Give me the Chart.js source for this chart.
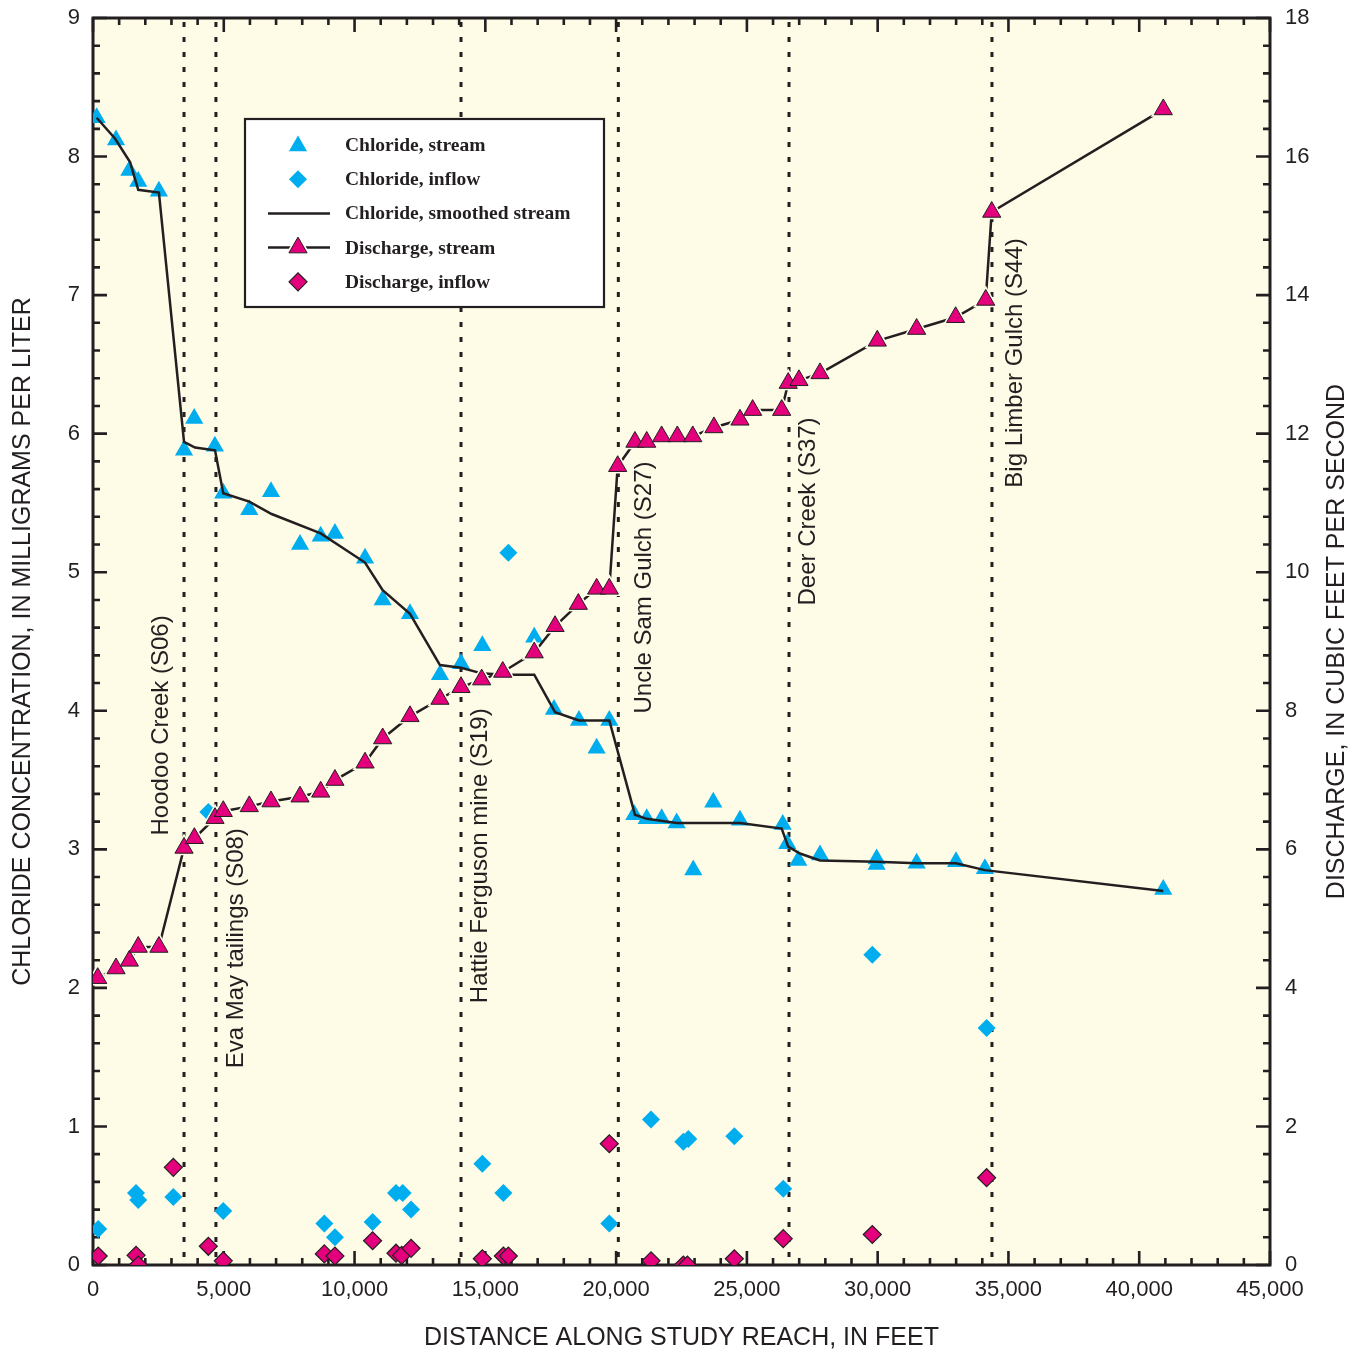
<!DOCTYPE html>
<html>
<head>
<meta charset="utf-8">
<title>Chloride and discharge along the study reach</title>
<script src="https://cdn.jsdelivr.net/npm/chart.js@4.4.1/dist/chart.umd.min.js"></script>
<style>
  html, body { margin: 0; padding: 0; background: #ffffff; }
  canvas { display: block; }
</style>
</head>
<body>
<canvas id="chart" width="1362" height="1351"></canvas>
<script>
// ---- Measured values (distance along study reach in feet) ----
const chlorideStreamDist = [140, 880, 1390, 1730, 2520, 3480, 3870, 4660, 4980, 5975, 6805, 7915, 8705, 9250,
  10400, 11075, 12120, 13265, 14070, 14885, 15690, 16870, 17625, 18580, 19255, 19740, 20695, 21170, 21740,
  22315, 22950, 23715, 24735, 26370, 26545, 26965, 27795, 29960, 29960, 31490, 32995, 34100, 40920];
const chlorideStreamMgL = [8.28, 8.12, 7.90, 7.82, 7.75, 5.88, 6.11, 5.91, 5.57, 5.45, 5.58, 5.20, 5.26, 5.28,
  5.10, 4.80, 4.70, 4.26, 4.34, 4.47, 4.27, 4.53, 4.01, 3.93, 3.73, 3.93, 3.25, 3.22, 3.22,
  3.19, 2.85, 3.34, 3.21, 3.18, 3.04, 2.92, 2.96, 2.93, 2.89, 2.90, 2.91, 2.86, 2.71];

const chlorideInflowDist = [200, 1645, 1730, 3070, 4410, 4980, 8845, 9250, 10690, 11585, 11840, 12160,
  14885, 15690, 15880, 19740, 21335, 22570, 22760, 24520, 26390, 29795, 34165];
const chlorideInflowMgL = [0.26, 0.52, 0.47, 0.49, 3.27, 0.39, 0.30, 0.20, 0.31, 0.52, 0.52, 0.40,
  0.73, 0.52, 5.14, 0.30, 1.05, 0.89, 0.91, 0.93, 0.55, 2.24, 1.71];

const smoothedDist = [140, 840, 1415, 1730, 2520, 3480, 3900, 4665, 4980, 5975, 6830, 8705, 10400, 11075,
  12120, 13265, 14070, 14860, 15690, 16870, 17665, 18580, 19740, 20720, 21170, 22315, 24735, 26330,
  26580, 27030, 27795, 29960, 31490, 32995, 34100, 40920];
const smoothedMgL = [8.28, 8.13, 7.96, 7.76, 7.74, 5.94, 5.90, 5.88, 5.57, 5.51, 5.42, 5.28, 5.07, 4.87,
  4.70, 4.33, 4.31, 4.27, 4.26, 4.26, 3.99, 3.93, 3.93, 3.25, 3.22, 3.19, 3.19, 3.15,
  3.02, 2.97, 2.92, 2.91, 2.90, 2.90, 2.85, 2.70];

const dischargeStreamDist = [180, 880, 1390, 1730, 2520, 3480, 3875, 4665, 4980, 5975, 6805, 7915, 8705, 9250,
  10400, 11075, 12120, 13265, 14070, 14860, 15665, 16870, 17665, 18555, 19255, 19740, 20060, 20720, 21170,
  21740, 22340, 22930, 23740, 24735, 25220, 26330, 26580, 26990, 27795, 29985, 31490, 32980, 34130, 34360, 40920];
const dischargeStreamCfs = [4.14, 4.28, 4.39, 4.59, 4.59, 6.02, 6.16, 6.45, 6.55, 6.62, 6.69, 6.76, 6.83, 7.00,
  7.25, 7.60, 7.92, 8.17, 8.34, 8.45, 8.56, 8.84, 9.22, 9.54, 9.76, 9.76, 11.53, 11.88, 11.88,
  11.96, 11.96, 11.96, 12.09, 12.20, 12.34, 12.34, 12.73, 12.77, 12.87, 13.34, 13.51, 13.68, 13.93, 15.20, 16.68];

const dischargeInflowDist = [200, 1645, 1730, 3070, 4410, 4980, 8845, 9250, 10690, 11585, 11800, 12160,
  14885, 15690, 15880, 19740, 21335, 22570, 22725, 24520, 26390, 29795, 34165];
const dischargeInflowCfs = [0.13, 0.14, 0.0, 1.41, 0.27, 0.06, 0.16, 0.13, 0.35, 0.17, 0.14, 0.24,
  0.09, 0.13, 0.13, 1.75, 0.06, 0.0, 0.0, 0.09, 0.38, 0.44, 1.26];

// Tributaries and other sources entering the reach
const tribNames = ['Hoodoo Creek (S06)', 'Eva May tailings (S08)', 'Hattie Ferguson mine (S19)',
  'Uncle Sam Gulch (S27)', 'Deer Creek (S37)', 'Big Limber Gulch (S44)'];
const tribDist = [3480, 4700, 14070, 20085, 26610, 34370];

// Axis tick labels
const xTickLabels = ['0', '5,000', '10,000', '15,000', '20,000', '25,000', '30,000', '35,000', '40,000', '45,000'];
const chlorideTickLabels = ['0', '1', '2', '3', '4', '5', '6', '7', '8', '9'];
const dischargeTickLabels = ['0', '2', '4', '6', '8', '10', '12', '14', '16', '18'];

const legendLabels = ['Chloride, stream', 'Chloride, inflow', 'Chloride, smoothed stream',
  'Discharge, stream', 'Discharge, inflow'];

// ---- Styling ----
const INK = '#231F20';
const CYAN = '#00AEEF';
const PINK = '#E4007C';
const PAPER = '#FEFBE7';
const SANS = '"Liberation Sans", Arial, Helvetica, sans-serif';
const SERIF = '"Liberation Serif", "Times New Roman", serif';
const TRI_R = 10.5;   // triangle marker radius
const DIA_R = 9;      // diamond marker radius

// Where each tributary name sits: horizontal shift from its line (px) and
// the chloride-axis level at which the rotated text starts.
const tribLabelShift = [-16, 27, 26, 33, 26, 30];
const tribLabelStart = [3.10, 1.42, 1.89, 3.98, 4.76, 5.61];

const pts = (xs, ys) => xs.map((x, i) => ({ x, y: ys[i] }));

Chart.defaults.font.family = SANS;
Chart.defaults.color = INK;

// fixed box sizes for the axes, without extra label padding around the plot
function fixBox(size, key) {
  return s => {
    s[key] = size;
    s.paddingTop = 0; s.paddingBottom = 0; s.paddingLeft = 0; s.paddingRight = 0;
  };
}

function marker(ctx, style, r, x, y, fill, stroke, bw) {
  ctx.save();
  ctx.fillStyle = fill;
  ctx.strokeStyle = stroke || fill;
  ctx.lineWidth = bw || 0;
  Chart.helpers.drawPoint(ctx, { pointStyle: style, radius: r, rotation: 0, borderWidth: bw || 0 }, x, y);
  ctx.restore();
}

const decorations = {
  id: 'decorations',
  beforeDatasetsDraw(chart) {
    const { ctx, chartArea: a, scales } = chart;
    const xs = scales.x, yl = scales.yCl, yr = scales.yQ;
    ctx.save();
    // plot background
    ctx.fillStyle = PAPER;
    ctx.fillRect(a.left, a.top, a.right - a.left, a.bottom - a.top);

    // dotted lines at the tributaries
    ctx.strokeStyle = INK;
    ctx.lineWidth = 3;
    ctx.setLineDash([5, 10]);
    tribDist.forEach(d => {
      const px = xs.getPixelForValue(d);
      ctx.beginPath();
      ctx.moveTo(px, a.top + 4);
      ctx.lineTo(px, a.bottom);
      ctx.stroke();
    });
    ctx.setLineDash([]);

    // tributary names, rotated
    ctx.fillStyle = INK;
    ctx.font = '24px ' + SANS;
    ctx.textAlign = 'left';
    ctx.textBaseline = 'alphabetic';
    tribNames.forEach((name, i) => {
      const px = xs.getPixelForValue(tribDist[i]) + tribLabelShift[i];
      const py = yl.getPixelForValue(tribLabelStart[i]);
      ctx.save();
      ctx.translate(px, py);
      ctx.rotate(-Math.PI / 2);
      ctx.fillText(name, 0, 0);
      ctx.restore();
    });

    // plot frame
    ctx.strokeStyle = INK;
    ctx.lineWidth = 3;
    ctx.strokeRect(a.left, a.top, a.right - a.left, a.bottom - a.top);

    // inward tick marks
    ctx.lineWidth = 2.6;
    ctx.beginPath();
    for (let v = 0; v <= 45000; v += 1000) {
      const px = xs.getPixelForValue(v);
      const len = v % 5000 === 0 ? 14 : 7;
      ctx.moveTo(px, a.bottom); ctx.lineTo(px, a.bottom - len);
      ctx.moveTo(px, a.top); ctx.lineTo(px, a.top + len);
    }
    for (let k = 0; k <= 45; k++) {
      const py = yl.getPixelForValue(k / 5);
      const len = k % 5 === 0 ? 14 : 7;
      ctx.moveTo(a.left, py); ctx.lineTo(a.left + len, py);
    }
    for (let k = 0; k <= 45; k++) {
      const py = yr.getPixelForValue(k * 0.4);
      const len = k % 5 === 0 ? 14 : 7;
      ctx.moveTo(a.right, py); ctx.lineTo(a.right - len, py);
    }
    ctx.stroke();

    // right-hand axis title, reading upward
    ctx.font = '25px ' + SANS;
    ctx.textAlign = 'center';
    ctx.textBaseline = 'middle';
    ctx.translate(1337, (a.top + a.bottom) / 2);
    ctx.rotate(-Math.PI / 2);
    ctx.fillText('DISCHARGE, IN CUBIC FEET PER SECOND', 0, 0);
    ctx.restore();
  },
  afterDatasetsDraw(chart) {
    const { ctx } = chart;
    const box = { x: 245, y: 119, w: 359, h: 188 };
    const symX = 298, textX = 345, row0 = 145, step = 34.2;
    ctx.save();
    ctx.fillStyle = '#ffffff';
    ctx.fillRect(box.x, box.y, box.w, box.h);
    ctx.strokeStyle = INK;
    ctx.lineWidth = 2.2;
    ctx.strokeRect(box.x, box.y, box.w, box.h);

    const rows = legendLabels.map((_, i) => row0 + i * step);
    marker(ctx, 'triangle', TRI_R, symX, rows[0] + 1, CYAN, CYAN, 0);
    marker(ctx, 'rectRot', DIA_R, symX, rows[1], CYAN, CYAN, 0);
    ctx.strokeStyle = INK;
    ctx.lineWidth = 2.5;
    ctx.beginPath(); ctx.moveTo(268, rows[2]); ctx.lineTo(330, rows[2]); ctx.stroke();
    ctx.beginPath(); ctx.moveTo(268, rows[3]); ctx.lineTo(330, rows[3]); ctx.stroke();
    marker(ctx, 'triangle', TRI_R + 4, symX, rows[3], '#ffffff', '#ffffff', 0);
    marker(ctx, 'triangle', TRI_R, symX, rows[3], PINK, INK, 1);
    marker(ctx, 'rectRot', DIA_R, symX, rows[4], PINK, INK, 1.2);

    ctx.fillStyle = INK;
    ctx.font = 'bold 19.5px ' + SERIF;
    ctx.textAlign = 'left';
    ctx.textBaseline = 'middle';
    legendLabels.forEach((t, i) => ctx.fillText(t, textX, rows[i] + 1));
    ctx.restore();
  }
};

const dischargePts = pts(dischargeStreamDist, dischargeStreamCfs);

new Chart(document.getElementById('chart'), {
  type: 'scatter',
  data: {
    datasets: [
      { label: 'Discharge, stream', data: dischargePts, yAxisID: 'yQ', order: 0,
        pointStyle: 'triangle', pointRadius: TRI_R, pointBackgroundColor: PINK,
        pointBorderColor: INK, pointBorderWidth: 1 },
      { label: 'Discharge, stream gap', data: dischargePts, yAxisID: 'yQ', order: 1,
        pointStyle: 'triangle', pointRadius: TRI_R + 4, pointBackgroundColor: PAPER,
        pointBorderColor: PAPER, pointBorderWidth: 0 },
      { label: 'Discharge, stream line', data: dischargePts, yAxisID: 'yQ', order: 2,
        showLine: true, pointRadius: 0, borderColor: INK, borderWidth: 2.5, tension: 0 },
      { label: 'Discharge, inflow', data: pts(dischargeInflowDist, dischargeInflowCfs), yAxisID: 'yQ', order: 3,
        pointStyle: 'rectRot', pointRadius: DIA_R, pointBackgroundColor: PINK,
        pointBorderColor: INK, pointBorderWidth: 1.2 },
      { label: 'Chloride, smoothed stream', data: pts(smoothedDist, smoothedMgL), yAxisID: 'yCl', order: 4,
        showLine: true, pointRadius: 0, borderColor: INK, borderWidth: 2.5, tension: 0 },
      { label: 'Chloride, inflow', data: pts(chlorideInflowDist, chlorideInflowMgL), yAxisID: 'yCl', order: 5,
        pointStyle: 'rectRot', pointRadius: DIA_R, pointBackgroundColor: CYAN,
        pointBorderColor: CYAN, pointBorderWidth: 0 },
      { label: 'Chloride, stream', data: pts(chlorideStreamDist, chlorideStreamMgL), yAxisID: 'yCl', order: 6,
        pointStyle: 'triangle', pointRadius: TRI_R, pointBackgroundColor: CYAN,
        pointBorderColor: CYAN, pointBorderWidth: 0 }
    ]
  },
  options: {
    responsive: false,
    devicePixelRatio: 1,
    animation: false,
    events: [],
    layout: { autoPadding: false, padding: { top: 18, left: 0, right: 0, bottom: 0 } },
    plugins: { legend: { display: false }, tooltip: { enabled: false } },
    scales: {
      x: {
        type: 'linear', position: 'bottom', min: 0, max: 45000,
        afterFit: fixBox(86, 'height'),
        grid: { display: false, drawTicks: false }, border: { display: false },
        ticks: { stepSize: 5000, padding: 12, autoSkip: false, maxRotation: 0, color: INK,
          font: { size: 22 }, callback: v => xTickLabels[Math.round(v / 5000)] },
        title: { display: true, text: 'DISTANCE ALONG STUDY REACH, IN FEET', color: INK,
          font: { size: 25, lineHeight: 1 }, padding: { top: 0, bottom: 0 } }
      },
      yCl: {
        type: 'linear', position: 'left', min: 0, max: 9,
        afterFit: fixBox(93, 'width'),
        grid: { display: false, drawTicks: false }, border: { display: false },
        ticks: { stepSize: 1, padding: 13, color: INK, font: { size: 22 },
          callback: v => chlorideTickLabels[Math.round(v)] },
        title: { display: true, text: 'CHLORIDE CONCENTRATION, IN MILLIGRAMS PER LITER', color: INK,
          font: { size: 25, lineHeight: 1 }, padding: { top: 11, bottom: 0 } }
      },
      yQ: {
        type: 'linear', position: 'right', min: 0, max: 18,
        afterFit: fixBox(92, 'width'),
        grid: { display: false, drawTicks: false }, border: { display: false },
        ticks: { stepSize: 2, padding: 15, color: INK, font: { size: 22 },
          callback: v => dischargeTickLabels[Math.round(v / 2)] },
        title: { display: false }
      }
    }
  },
  plugins: [decorations]
});
</script>
</body>
</html>
